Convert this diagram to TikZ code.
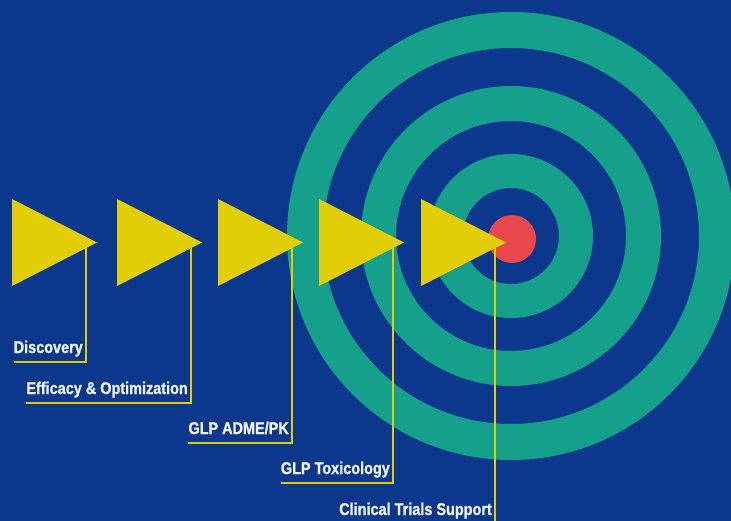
\documentclass[tikz,border=0pt]{standalone}
\usepackage{fontspec}
\usetikzlibrary{calc}
\newfontfamily\labfont[FakeStretch=0.85,UprightFont={* Bold},FakeBold=1]{Liberation Sans}
\definecolor{bgblue}{RGB}{11,56,140}
\definecolor{ringteal}{RGB}{20,160,139}
\definecolor{flagyellow}{RGB}{226,206,6}
\definecolor{bullred}{RGB}{232,71,76}
\definecolor{labwhite}{RGB}{240,242,246}
\begin{document}
\begin{tikzpicture}[x=1pt,y=-1pt,
  ring/.style={fill=ringteal,even odd rule},
  flag/.style={fill=flagyellow},
  leader/.style={draw=flagyellow,line width=2pt},
  lab/.style={text=labwhite,inner sep=0pt,anchor=base east,
    font=\labfont\fontsize{17}{19}\selectfont}]
  % canvas
  \useasboundingbox (0,0) rectangle (731,521);
  \clip (0,0) rectangle (731,521);
  \fill[bgblue] (0,0) rectangle (731,521);

  % target rings and bullseye
  \coordinate (c) at (511,236);
  \fill[ring] (c) circle (224) circle (188);
  \fill[ring] (c) circle (150) circle (115);
  \fill[ring] (c) circle (82) circle (48);
  \fill[bullred] (512,239) circle (24);

  % stages: left edge of flag, underline depth, label
  \foreach \i/\lx/\uy/\txt in {1/12/362/{Discovery},
      2/117/403/{Efficacy \& Optimization},
      3/218/443/{GLP ADME/PK},
      4/319/483/{GLP Toxicology},
      5/421/524/{Clinical Trials Support}}{
    \coordinate (k\i) at (\lx+74,242);
    \coordinate (u\i) at (\lx+74,\uy);
    \node[lab] (l\i) at ($(u\i)+(-3,-9)$) {\txt};
    \draw[leader] (k\i) -- (u\i) -- (u\i -| l\i.west);
    \fill[flag] (\lx,199) -- (\lx+85,242.5) -- (\lx,286) -- cycle;
  }
\end{tikzpicture}
\end{document}
